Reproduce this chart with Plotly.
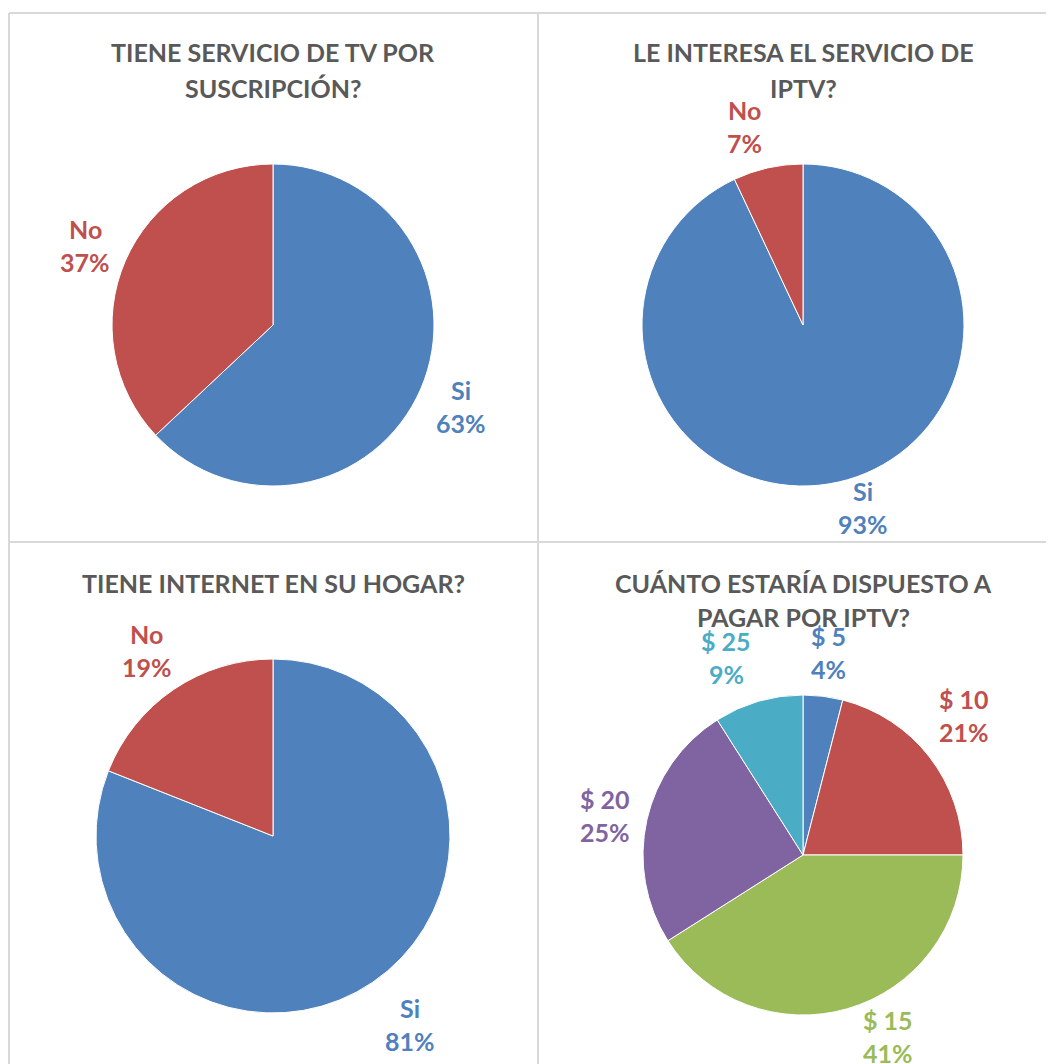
import math
import plotly.graph_objects as go

# page body has an 8px margin, so the figure is sized to fit inside it
OFF = 8
PAGE_W, PAGE_H = 1054, 1064
W, H = PAGE_W - OFF, PAGE_H - OFF

# ---- data ----
titles = [
    ["TIENE SERVICIO DE TV POR", "SUSCRIPCIÓN?"],
    ["LE INTERESA EL SERVICIO DE", "IPTV?"],
    ["TIENE INTERNET EN SU HOGAR?"],
    ["CUÁNTO ESTARÍA DISPUESTO A", "PAGAR POR IPTV?"],
]
labels_tv = ["Si", "No"]
values_tv = [63, 37]
labels_iptv = ["Si", "No"]
values_iptv = [93, 7]
labels_net = ["Si", "No"]
values_net = [81, 19]
labels_pay = ["$ 5", "$ 10", "$ 15", "$ 20", "$ 25"]
values_pay = [4, 21, 41, 25, 9]

BLUE, RED, GREEN, PURPLE, TEAL = "#4F81BD", "#C0504D", "#9BBB59", "#8064A2", "#4BACC6"
colors_yn = [BLUE, RED]
colors_pay = [BLUE, RED, GREEN, PURPLE, TEAL]

FONT = "Lato"
TITLE_COLOR = "#595959"
FS = 25

# layout: (center x px, center y px, radius px, title line y's, title x, label nudges)
panels = [
    (labels_tv, values_tv, colors_yn, 273, 325, 161, [52, 88], 273,
     [(0, 0), (0, 2)]),
    (labels_iptv, values_iptv, colors_yn, 803, 325, 161, [52, 88], 803,
     [(15, -17), (-14, 1)]),
    (labels_net, values_net, colors_yn, 273, 836, 177, [583], 273,
     [(11, 3), (0, 0)]),
    (labels_pay, values_pay, colors_pay, 803, 855, 160, [583, 617], 803,
     [(0, -1), (0, -15), (28, -14), (0, 5), (-20, -2)]),
]

fig = go.Figure()
annotations = []

def px(x):
    return (x - OFF) / W

def py(y):
    return 1 - (y - OFF) / H

for i, (labs, vals, cols, cx, cy, r, tys, tx, nudges) in enumerate(panels):
    fig.add_trace(go.Pie(
        labels=labs, values=vals, sort=False, direction="clockwise", rotation=0,
        marker=dict(colors=cols, line=dict(color="white", width=1)),
        textinfo="none", hoverinfo="label+percent", showlegend=False,
        domain=dict(x=[px(cx - r), px(cx + r)], y=[py(cy + r), py(cy - r)]),
    ))
    for line, ty in zip(titles[i], tys):
        annotations.append(dict(
            text=f"<b>{line}</b>", x=px(tx), y=py(ty), xref="paper", yref="paper",
            showarrow=False, xanchor="center", yanchor="middle",
            font=dict(family=FONT, size=FS, color=TITLE_COLOR),
        ))
    total = sum(vals)
    cum = 0
    R = 1.27 * r
    for lab, v, c, (nx, ny) in zip(labs, vals, cols, nudges):
        mid = (cum + v / 2) / total * 2 * math.pi
        cum += v
        lx = cx + R * math.sin(mid) + nx
        ly = cy - R * math.cos(mid) + ny
        pct = f"{round(v / total * 100)}%"
        for t, dy in ((lab, -16.5), (pct, 16.5)):
            annotations.append(dict(
                text=f"<b>{t}</b>", x=px(lx), y=py(ly + dy), xref="paper", yref="paper",
                showarrow=False, xanchor="center", yanchor="middle",
                font=dict(family=FONT, size=FS, color=c),
            ))

BORDER = "#D9D9D9"
shapes = [
    dict(type="line", xref="paper", yref="paper", x0=px(9), x1=px(9), y0=py(13), y1=py(PAGE_H), line=dict(color=BORDER, width=2)),
    dict(type="line", xref="paper", yref="paper", x0=px(9), x1=px(PAGE_W), y0=py(13), y1=py(13), line=dict(color=BORDER, width=2)),
    dict(type="line", xref="paper", yref="paper", x0=px(538), x1=px(538), y0=py(13), y1=py(PAGE_H), line=dict(color=BORDER, width=2)),
    dict(type="line", xref="paper", yref="paper", x0=px(9), x1=px(PAGE_W), y0=py(542), y1=py(542), line=dict(color=BORDER, width=2)),
]

fig.update_layout(
    width=W, height=H, margin=dict(l=0, r=0, t=0, b=0),
    paper_bgcolor="white", plot_bgcolor="white",
    annotations=annotations, shapes=shapes,
)
fig.write_html("out.html")
